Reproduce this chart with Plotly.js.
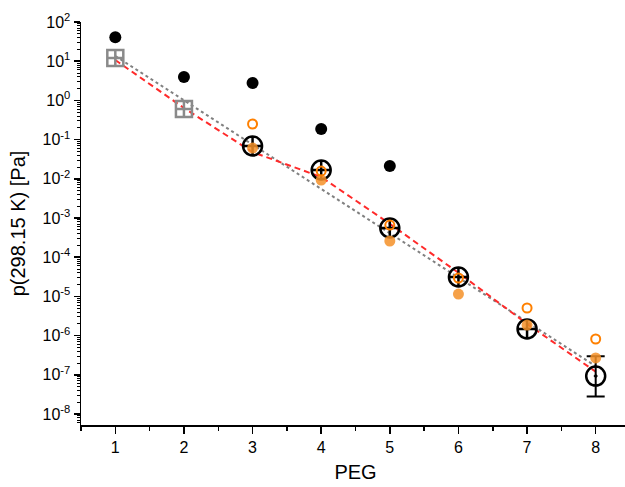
<!DOCTYPE html>
<html><head><meta charset="utf-8">
<script src="https://cdn.plot.ly/plotly-3.0.1.min.js"></script>
<style>html,body{margin:0;padding:0;overflow:hidden;background:#fff}</style>
</head><body><div id="chart"></div>
<script>
// ---- data ----
const pegTicks = [1,2,3,4,5,6,7,8];
const blackX = [1,2,3,4,5];
const blackY = [41, 3.95, 2.78, 0.186, 0.0212];
const squareX = [1,2];
const squareY = [12.1, 0.60];
const refX = [3,4,5,6,7,8];
const refY = [0.0687, 0.0168, 5.56e-4, 3.13e-5, 1.48e-6, 9.3e-8];
const refErrPlus = [0,0,0,0,0,2.05e-7];
const refErrMinus = [0,0,0,0,0,6.5e-8];
const orangeOpenX = [3,4,5,6,7,8];
const orangeOpenY = [0.25, 0.0158, 6.6e-4, 2.95e-5, 5.06e-6, 8.2e-7];
const orangeFillX = [3,4,5,6,7,8];
const orangeFillY = [0.061, 9.3e-3, 2.59e-4, 1.15e-5, 1.86e-6, 2.7e-7];
const redX = [1,2,3,4,5,6,7,8];
const redY = [10.7, 0.64, 0.048, 0.0111, 7.1e-4, 4.0e-5, 2.0e-6, 1.2e-7];
const grayX = [1,8];
const grayY = [13.6, 1.66e-7];
const yExp = [2,1,0,-1,-2,-3,-4,-5,-6,-7,-8];

const yTickVals = yExp.map(e => Math.pow(10,e));
const yTickText = yExp.map(e => '10<sup>' + e + '</sup>');
const yMinor = [];
for (let e = -9; e <= 2; e++) for (let m = 2; m <= 9; m++) yMinor.push(m*Math.pow(10,e));

const F = 'Liberation Sans, Arial, sans-serif';
const nLast = refX.length - 1;

const traces = [
  {x: grayX, y: grayY, mode:'lines', line:{color:'#808080', width:2, dash:'dot'}, hoverinfo:'skip'},
  {x: redX, y: redY, mode:'lines', line:{color:'#ff2a2a', width:2, dash:'6px,4px'}, hoverinfo:'skip'},
  {x: squareX, y: squareY, mode:'markers', marker:{symbol:'square-cross-open', size:16, color:'#8a8a8a', line:{width:2.5, color:'#8a8a8a'}}},
  {x: refX.slice(0,nLast), y: refY.slice(0,nLast), mode:'markers',
   marker:{symbol:'circle-cross-open', size:19, color:'#000', line:{width:2.5, color:'#000'}}},
  {x: refX.slice(nLast), y: refY.slice(nLast), mode:'markers',
   marker:{symbol:'circle-open-dot', size:19, color:'#000', line:{width:2.5, color:'#000'}},
   error_y:{type:'data', symmetric:false, array: refErrPlus.slice(nLast), arrayminus: refErrMinus.slice(nLast), color:'#000', thickness:2, width:9}},
  {x: blackX, y: blackY, mode:'markers', marker:{symbol:'circle', size:12, color:'#000'}},
  {x: orangeFillX, y: orangeFillY, mode:'markers', marker:{symbol:'circle', size:11, color:'rgba(245,145,40,0.85)'}},
  {x: orangeOpenX, y: orangeOpenY, mode:'markers', marker:{symbol:'circle-open', size:9, color:'#ff8000', line:{width:2, color:'#ff8000'}}}
];

const layout = {
  width: 640, height: 487,
  margin: {l:81, r:10, t:22, b:62},
  paper_bgcolor:'#fff', plot_bgcolor:'#fff',
  showlegend:false,
  font:{family:F, color:'#000'},
  xaxis: {
    range:[0.5,8.5], tickmode:'array', tickvals: pegTicks, ticktext: pegTicks.map(String),
    ticks:'outside', ticklen:7, tickwidth:1.5, tickcolor:'#000',
    showline:true, linewidth:1.5, linecolor:'#000', showgrid:false, zeroline:false,
    tickfont:{family:F, size:16, color:'#000'},
    minor:{dtick:0.5, tick0:0.5, ticks:'outside', ticklen:4, tickwidth:1.5, tickcolor:'#000', showgrid:false},
    title:{text:'PEG', font:{family:F, size:20, color:'#000'}, standoff:10}
  },
  xaxis2: {
    overlaying:'x', side:'top', range:[0.5,8.5], tickmode:'array', tickvals: pegTicks,
    showticklabels:false, ticks:'inside', ticklen:8, tickwidth:1.5, tickcolor:'#000',
    showline:true, linewidth:1.5, linecolor:'#000', showgrid:false, zeroline:false,
    minor:{dtick:0.5, tick0:0.5, ticks:'inside', ticklen:4, tickwidth:1.5, tickcolor:'#000', showgrid:false}
  },
  yaxis: {
    type:'log', range:[-8.28,2], tickmode:'array', tickvals:yTickVals, ticktext:yTickText,
    ticks:'outside', ticklen:6, tickwidth:1.5, tickcolor:'#000',
    showline:true, linewidth:1.5, linecolor:'#000', showgrid:false, zeroline:false,
    tickfont:{family:F, size:16, color:'#000'},
    minor:{tickmode:'array', tickvals:yMinor, ticks:'outside', ticklen:3, tickwidth:1, tickcolor:'#000', showgrid:false},
    title:{text:'p(298.15 K) [Pa]', font:{family:F, size:20, color:'#000'}, standoff:11}
  },
  yaxis2: {
    overlaying:'y', side:'right', type:'log', range:[-8.28,2], tickmode:'array', tickvals:yTickVals,
    showticklabels:false, ticks:'inside', ticklen:6, tickwidth:1.5, tickcolor:'#000',
    showline:true, linewidth:1.5, linecolor:'#000', showgrid:false, zeroline:false
  }
};

Plotly.newPlot('chart', traces, layout, {displayModeBar:false, staticPlot:true});
</script></body></html>
